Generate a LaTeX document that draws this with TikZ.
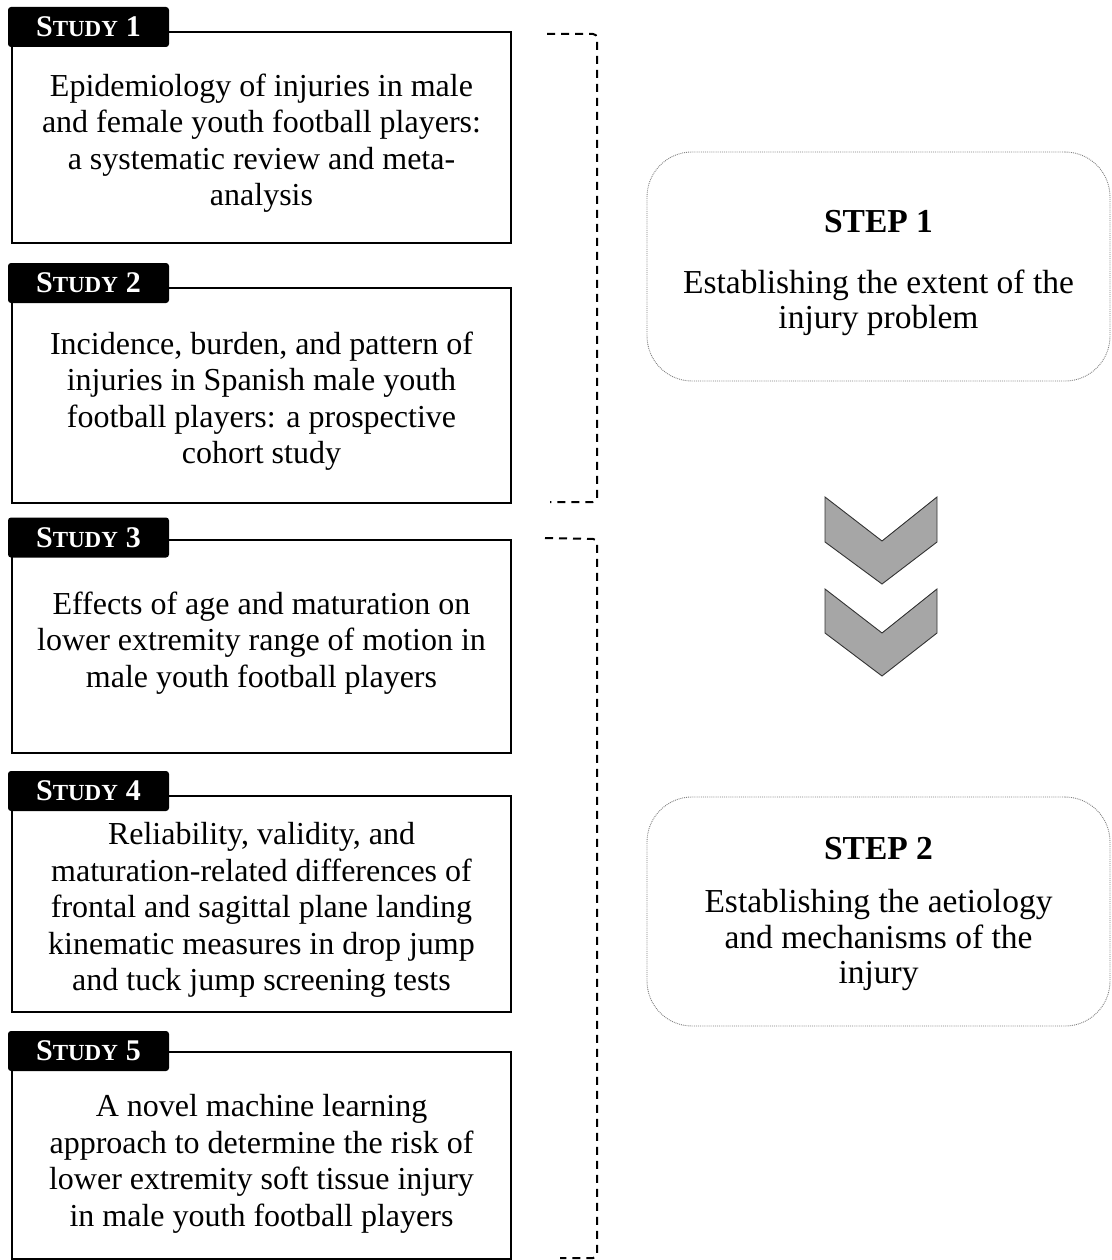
\documentclass[tikz,border=0pt]{standalone}
\usepackage{fontspec}
\setmainfont{Liberation Serif}
\newcommand\tablabel[1]{{\fontsize{30}{30}\selectfont S}{\fontsize{23}{23}\selectfont TUDY}\hspace{8pt}{\fontsize{30}{30}\selectfont #1}}
\begin{document}
\begin{tikzpicture}[x=1pt,y=-1pt,
  studybox/.style={draw=black,line width=2.6pt,minimum width=499pt,inner sep=0pt},
  tabbox/.style={fill=black,rounded corners=3pt,minimum width=161pt,minimum height=40pt,inner sep=0pt,text=white,font=\bfseries},
  studytext/.style={align=center,font=\fontsize{32}{36.5}\selectfont,inner sep=0pt},
  stepbox/.style={draw=gray,densely dotted,line width=0.9pt,rounded corners=45pt,minimum width=463pt,inner sep=0pt},
  steptext/.style={align=center,font=\fontsize{33.5}{35.5}\selectfont,inner sep=0pt},
  bracket/.style={dashed,dash pattern=on 8pt off 6pt,line width=2pt,rounded corners=4pt},
  chev/.style={fill=black!35,draw=black!80,line width=0.9pt,line join=miter}]
\useasboundingbox (0,0) rectangle (1111,1260);
% study boxes
\node[studybox,minimum height=211pt] (s1) at (261.5,137.5) {};
\node[studybox,minimum height=215pt] (s2) at (261.5,395.5) {};
\node[studybox,minimum height=213pt] (s3) at (261.5,646.5) {};
\node[studybox,minimum height=216pt] (s4) at (261.5,904) {};
\node[studybox,minimum height=207pt] (s5) at (261.5,1155.5) {};
% tabs
\node[tabbox] (t1) at (88.5,27) {\tablabel{1}};
\node[tabbox] (t2) at (88.5,283) {\tablabel{2}};
\node[tabbox] (t3) at (88.5,537.5) {\tablabel{3}};
\node[tabbox] (t4) at (88.5,791) {\tablabel{4}};
\node[tabbox] (t5) at (88.5,1051) {\tablabel{5}};
% study texts
\node[studytext] (x1) at (261.5,143) {Epidemiology of injuries in male\\and female youth football players:\\a systematic review and meta-\\analysis};
\node[studytext] (x2) at (261.5,401) {Incidence, burden, and pattern of\\injuries in Spanish male youth\\football players: a prospective\\cohort study};
\node[studytext] (x3) at (261.5,643) {Effects of age and maturation on\\lower extremity range of motion in\\male youth football players};
\node[studytext] (x4) at (261.5,910) {Reliability, validity, and\\maturation-related differences of\\frontal and sagittal plane landing\\kinematic measures in drop jump\\and tuck jump screening tests};
\node[studytext] (x5) at (261.5,1164) {A novel machine learning\\approach to determine the risk of\\lower extremity soft tissue injury\\in male youth football players};
% brackets
\coordinate (b1s) at (547,34);
\coordinate (b1e) at (550,502);
\coordinate (b2s) at (545,538);
\coordinate (b2e) at (560,1258);
\draw[bracket] (b1s) -- (597,34) -- (597,502) -- (b1e);
\draw[bracket] (b2s) -- (597,539) -- (597,1258) -- (b2e);
% step boxes
\node[stepbox,minimum height=229pt] (p1) at (878.5,266.5) {};
\node[steptext] (p1h) at (878.5,222) {\bfseries STEP 1};
\node[steptext] (p1t) at (878.5,303) {Establishing the extent of the\\injury problem};
\node[stepbox,minimum height=229pt] (p2) at (878.5,911.5) {};
\node[steptext] (p2h) at (878.5,849) {\bfseries STEP 2};
\node[steptext] (p2t) at (878.5,940) {Establishing the aetiology\\and mechanisms of the\\injury};
% chevrons
\draw[chev] (825,497) -- (882,541) -- (937,497) -- (937,542) -- (882,584) -- (825,542) -- cycle;
\draw[chev] (825,589) -- (882,633) -- (937,589) -- (937,633) -- (882,676) -- (825,633) -- cycle;
\end{tikzpicture}
\end{document}
